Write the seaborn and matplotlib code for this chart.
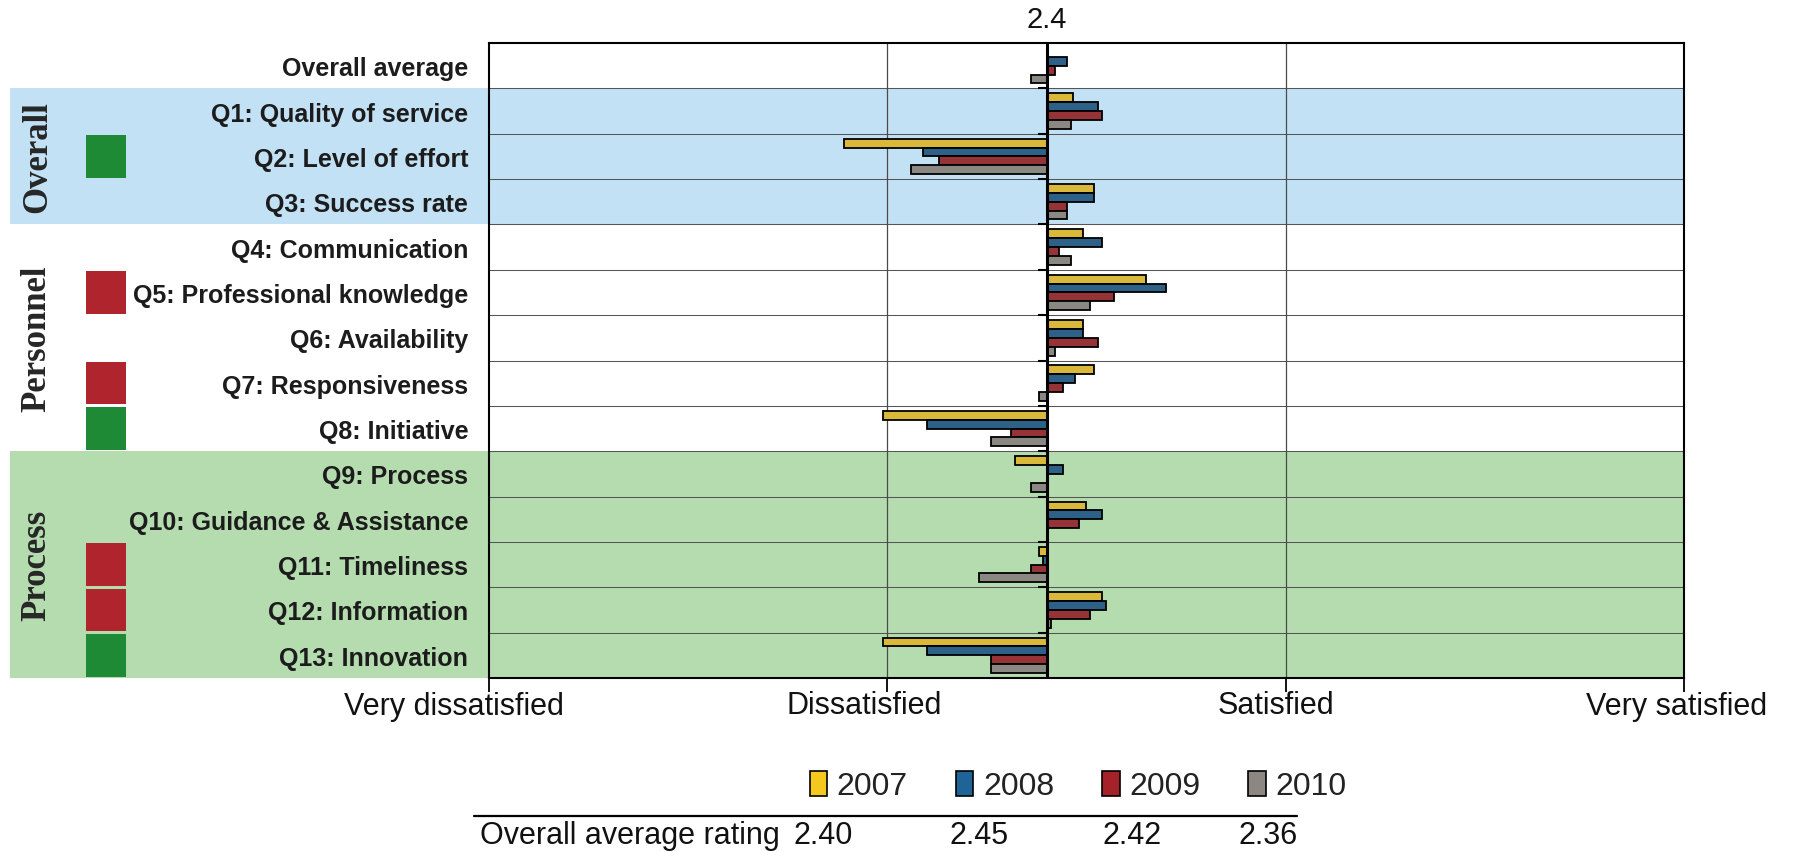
import numpy as np
import pandas as pd
import matplotlib
matplotlib.use("Agg")
import matplotlib.pyplot as plt
import matplotlib.transforms as mtransforms
from matplotlib.lines import Line2D
from matplotlib.patches import Patch
import seaborn as sns

# ---- data -------------------------------------------------------------
questions = [
    "Overall average",
    "Q1: Quality of service",
    "Q2: Level of effort",
    "Q3: Success rate",
    "Q4: Communication",
    "Q5: Professional knowledge",
    "Q6: Availability",
    "Q7: Responsiveness",
    "Q8: Initiative",
    "Q9: Process",
    "Q10: Guidance & Assistance",
    "Q11: Timeliness",
    "Q12: Information",
    "Q13: Innovation",
]
years = ["2007", "2008", "2009", "2010"]

rating_2007 = [2.40, 2.465, 1.89, 2.52, 2.49, 2.65, 2.49, 2.52, 1.99, 2.32, 2.50, 2.38, 2.54, 1.99]
rating_2008 = [2.45, 2.53, 2.09, 2.52, 2.54, 2.70, 2.49, 2.47, 2.10, 2.44, 2.54, 2.39, 2.55, 2.10]
rating_2009 = [2.42, 2.54, 2.13, 2.45, 2.43, 2.57, 2.53, 2.44, 2.31, 2.40, 2.48, 2.36, 2.51, 2.26]
rating_2010 = [2.36, 2.46, 2.06, 2.45, 2.46, 2.51, 2.42, 2.38, 2.26, 2.36, 2.40, 2.23, 2.41, 2.26]

# question groups: (name, first row, last row)
groups = [("Overall", 1, 3), ("Personnel", 4, 8), ("Process", 9, 13)]
# status flag shown beside each question
flags = [None, None, "good", None, None, "bad", None, "bad", "good",
         None, None, "bad", "bad", "good"]

scale_values = [1, 2, 3, 4]
scale_labels = ["Very dissatisfied", "Dissatisfied", "Satisfied", "Very satisfied"]
BASE = 2.4

# ---- styling ----------------------------------------------------------
year_colors = ["#f5c81e", "#1e6496", "#a52328", "#8c8782"]
flag_colors = {"good": "#1f8a35", "bad": "#b0252d"}
band_colors = {"Overall": "#c3e1f5", "Process": "#b4dcaf"}

sns.set_theme(style="white")
plt.rcParams["font.family"] = ["Liberation Sans", "DejaVu Sans"]

series = [rating_2007, rating_2008, rating_2009, rating_2010]
df = pd.DataFrame({
    "question": np.tile(questions, len(years)),
    "year": np.repeat(years, len(questions)),
    "rating": np.concatenate(series),
})
# bars run from the reference rating outwards
df["delta"] = df["rating"] - BASE

W, H = 1799, 853
fig = plt.figure(figsize=(W / 100, H / 100), dpi=100)
ax = fig.add_axes([489 / W, 1 - 679 / H, (1684 - 489) / W, (679 - 44) / H])

sns.barplot(
    data=df, y="question", x="delta", hue="year",
    order=questions, hue_order=years,
    palette=dict(zip(years, year_colors)),
    orient="h", errorbar=None, width=0.78,
    left=BASE, edgecolor="black", linewidth=1.3,
    zorder=3, legend=False, ax=ax,
)

n = len(questions)
ax.set_xlim(scale_values[0], scale_values[-1])
ax.set_ylim(n - 0.5, -0.5)
ax.set_xlabel("")
ax.set_ylabel("")
ax.set_xticks(scale_values, scale_labels, fontsize=22)
ax.tick_params(axis="x", bottom=True, length=10, width=1.3, direction="out",
               pad=-1, colors="black", labelcolor="#111111")
ax.tick_params(axis="y", left=False, length=0, pad=15, labelsize=18,
               labelcolor="#1c1c1c")
for t in ax.get_yticklabels():
    t.set_fontweight("bold")

# scale labels sit a little left of their ticks
for t, dx in zip(ax.get_xticklabels(), [-35, -23, -10, -7]):
    t.set_transform(t.get_transform() +
                    mtransforms.ScaledTranslation(dx / 100, 0, fig.dpi_scale_trans))

for s in ax.spines.values():
    s.set_visible(True)
    s.set_color("black")
    s.set_linewidth(1.5)

# shaded groups, extended under the labels
for name, r0, r1 in groups:
    if name in band_colors:
        ax.axhspan(r0 - 0.5, r1 + 0.5, xmin=-0.4010, xmax=1.0,
                   facecolor=band_colors[name], lw=0, zorder=0, clip_on=False)

# status squares
for i, f in enumerate(flags):
    if f:
        ax.axhspan(i - 0.47, i + 0.47, xmin=-0.3372, xmax=-0.3038,
                   facecolor=flag_colors[f], lw=0, zorder=1, clip_on=False)

# group names
blend = mtransforms.blended_transform_factory(ax.transAxes, ax.transData)
for name, r0, r1 in groups:
    ax.text(-0.3780, (r0 + r1) / 2, name, transform=blend, rotation=90,
            ha="center", va="center", fontsize=25, fontweight="bold",
            family=["Liberation Serif", "DejaVu Serif"], color="#262626",
            clip_on=False)

# grid
bounds = np.arange(0.5, n - 0.5)
for b in bounds:
    ax.axhline(b, color="#555555", lw=0.75, zorder=1)
for v in scale_values[1:-1]:
    ax.axvline(v, color="#4a4a4a", lw=0.9, zorder=1)

# reference axis at the baseline rating
ax.axvline(BASE, color="black", lw=2.2, zorder=4)
ax.hlines(bounds, BASE - 0.022, BASE, color="black", lw=1.5, zorder=4)
ax.annotate(f"{BASE:g}", xy=(BASE, 1.0), xycoords=("data", "axes fraction"),
            xytext=(0, 7), textcoords="offset points",
            ha="center", va="bottom", fontsize=21, color="#111111")

# legend
handles = [Patch(facecolor=c, edgecolor="black", lw=1.2) for c in year_colors]
fig.legend(handles, years, ncol=4, loc="center",
           bbox_to_anchor=(1078 / W, 1 - 787 / H), frameon=False,
           fontsize=23, handlelength=0.55, handleheight=0.85,
           handletextpad=0.3, columnspacing=1.5, labelcolor="#222222")

# summary row
fig.add_artist(Line2D([474 / W, 1297 / W], [1 - 817 / H] * 2,
                      color="black", lw=1.6))
fig.text(480 / W, 1 - 836 / H, "Overall average rating", ha="left",
         va="center", fontsize=22, color="#111111")
value_x = [823, 979, 1132, 1268]
for xp, s in zip(value_x, series):
    fig.text(xp / W, 1 - 836 / H, f"{s[0]:.2f}", ha="center", va="center",
             fontsize=22, color="#111111")

fig.savefig("out.png", dpi=100)
